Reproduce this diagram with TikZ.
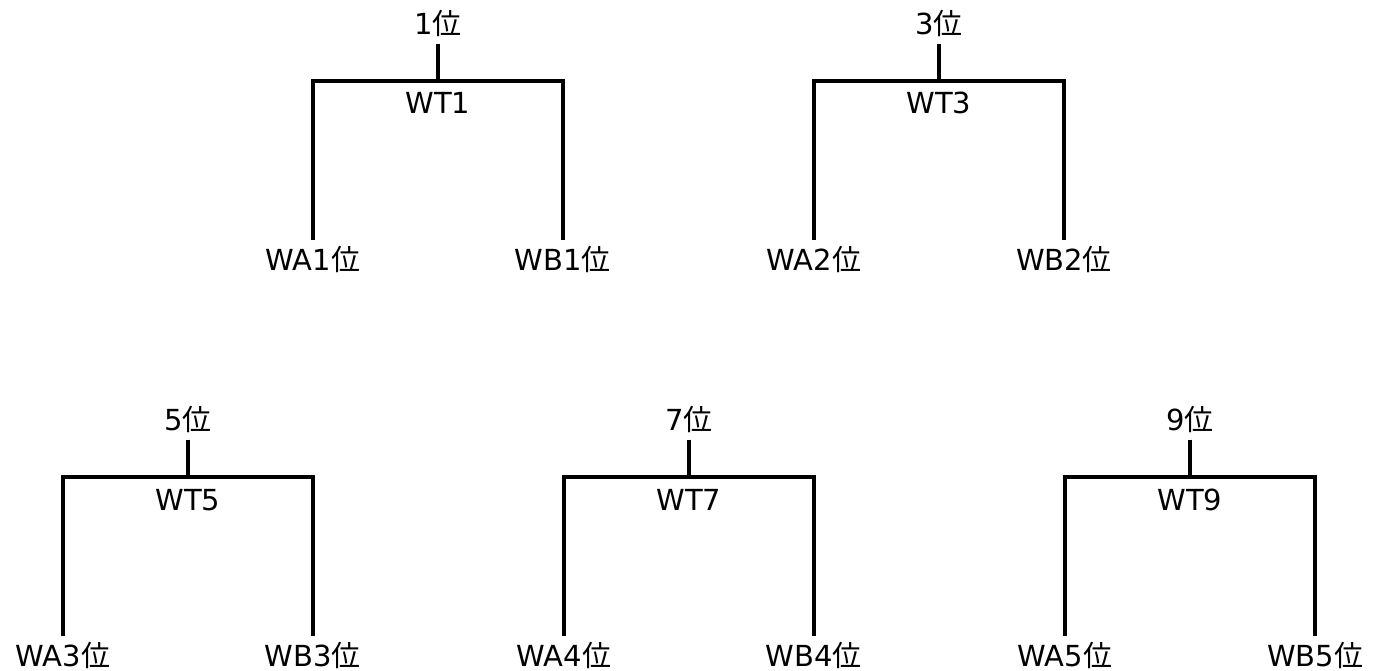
\documentclass[tikz,border=0pt]{standalone}
\usepackage{fontspec}
\setmainfont{DejaVu Sans}
\newfontfamily\jpfont{Noto Sans CJK JP}
\usepackage{tikz}
\usetikzlibrary{positioning}
\tikzset{
  basenode/.style = {align=center, inner sep=2.5pt, text centered, font=\fontsize{16.5}{18}\selectfont, text height=14.5pt, text depth=2.3pt},
  rank_node/.style = {basenode},
  leaf_node/.style = {basenode},
  wt_node/.style = {basenode, anchor=north, inner sep=4pt},
  bracket/.style = {draw=black, line width=2pt},
}

\begin{document}
\begin{tikzpicture}[x=0.02cm, y=-0.02cm, level distance=4.72cm, sibling distance=5cm,
    edge from parent/.style={bracket},
    edge from parent path={(\tikzparentnode.south) -- ([yshift=-1.14cm]\tikzparentnode.center) -| (\tikzchildnode.north)}]
    \useasboundingbox (0,0) rectangle (1381,670);
    % upper row
    \node [rank_node] (r1) at (438,24) {1{\jpfont 位}}
    child{ node [leaf_node] (wa1) {WA1{\jpfont 位}}}
    child{ node [leaf_node] (wb1) {WB1{\jpfont 位}}};
    \node [wt_node] (wt1) at ([yshift=-1.14cm]r1.center) {WT1};
    \node [rank_node] (r3) at (939,24) {3{\jpfont 位}}
    child{ node [leaf_node] (wa2) {WA2{\jpfont 位}}}
    child{ node [leaf_node] (wb2) {WB2{\jpfont 位}}};
    \node [wt_node] (wt3) at ([yshift=-1.14cm]r3.center) {WT3};
    % lower row
    \node [rank_node] (r5) at (188,420) {5{\jpfont 位}}
    child{ node [leaf_node] (wa3) {WA3{\jpfont 位}}}
    child{ node [leaf_node] (wb3) {WB3{\jpfont 位}}};
    \node [wt_node] (wt5) at ([yshift=-1.16cm]r5.center) {WT5};
    \node [rank_node] (r7) at (689,420) {7{\jpfont 位}}
    child{ node [leaf_node] (wa4) {WA4{\jpfont 位}}}
    child{ node [leaf_node] (wb4) {WB4{\jpfont 位}}};
    \node [wt_node] (wt7) at ([yshift=-1.16cm]r7.center) {WT7};
    \node [rank_node] (r9) at (1190,420) {9{\jpfont 位}}
    child{ node [leaf_node] (wa5) {WA5{\jpfont 位}}}
    child{ node [leaf_node] (wb5) {WB5{\jpfont 位}}};
    \node [wt_node] (wt9) at ([yshift=-1.16cm]r9.center) {WT9};
\end{tikzpicture}
\end{document}
